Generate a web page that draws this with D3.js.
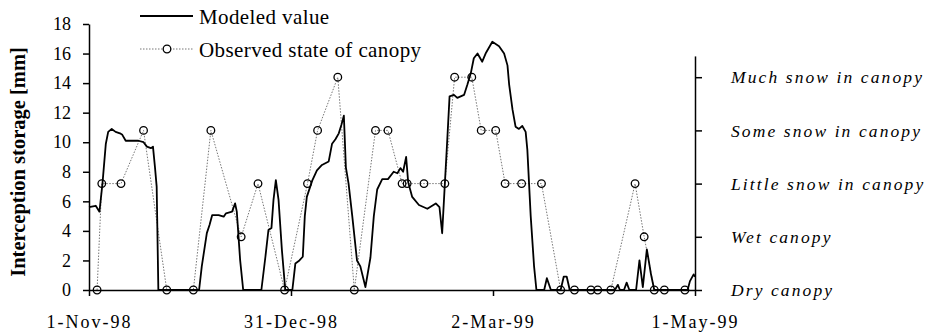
<!DOCTYPE html>
<html>
<head>
<meta charset="utf-8">
<script src="https://cdn.jsdelivr.net/npm/d3@7/dist/d3.min.js"></script>
<style>
  body { margin: 0; background: #fff; }
  svg, svg text { font-family: "Liberation Serif", "Times New Roman", serif; }
  .axis path, .axis line { stroke: #000; stroke-width: 1.5px; }
  .axis text { font-size: 18px; fill: #000; }
  .x-axis text { letter-spacing: 2px; }
  .right-axis text { font-style: italic; font-size: 17.5px; letter-spacing: 2.1px; }
</style>
</head>
<body>
<script>
// days counted from 1-Nov-98
var modeledDay = [0, 2, 3.1, 4, 5, 5.7, 6.75, 7.9, 9.2, 9.9, 10.9, 14.7, 16.2, 17.2,
    18.4, 19, 19.6, 20.1, 20.6, 32.7, 33.5, 35, 35.8, 36.6, 38.5, 40, 40.7, 42.5,
    43.4, 43.9, 44.9, 45.8, 51.2, 52.4, 53.3, 54.2, 54.8, 55.5, 56.3, 57.3, 58.3,
    60.4, 61.3, 62.5, 63.5, 64.1, 64.7, 66.3, 67.7, 69.2, 71.2, 72.2, 73.2, 74.2,
    75, 75.7, 76.3, 77.1, 78.2, 79.6, 80.6, 82.1, 83.6, 84.6, 85.6, 87.1, 88.8,
    90.5, 91.6, 92.5, 93.3, 94.2, 94.8, 96, 98, 100.5, 103, 104.1, 104.9, 105.7,
    106.4, 107.1, 108.4, 109.4, 111.4, 112.4, 113.4, 114.3, 115.4, 116.8, 117.8,
    119.8, 121.8, 123.3, 124.3, 124.8, 125.8, 126.7, 127.7, 128.7, 129.7, 130.2,
    131.2, 132.2, 132.9, 135.2, 136, 137.2, 140.1, 141, 141.9, 142.8, 156.2,
    157.1, 157.7, 158.9, 159.7, 160.5, 162.5, 163.5, 164.5, 165.7, 166.9, 167.9,
    177.8, 178.5, 179.6, 180];
var modeledValue = [5.6, 5.7, 5.3, 7.2, 9.9, 10.7, 10.9, 10.7, 10.6, 10.5, 10.1, 10.1,
    10.0, 9.7, 9.6, 9.7, 8.3, 7.0, 0, 0, 1.6, 3.85, 4.4, 5.07, 5.07, 4.96, 5.19,
    5.3, 5.86, 5.3, 2.0, 0, 0, 2.25, 4.06, 4.2, 6.1, 7.44, 6.1, 2.7, 0, 0, 1.8,
    2.0, 2.25, 5.0, 6.3, 7.4, 8.1, 8.46, 8.7, 9.9, 10.2, 10.6, 11.2, 11.8, 8.3,
    7.2, 5.0, 2.0, 1.6, 0.2, 2.2, 5.0, 6.8, 7.5, 7.5, 8.0, 7.9, 8.25, 8.0, 9.0,
    7.3, 6.3, 5.75, 5.5, 5.86, 5.6, 3.84, 7.2, 10.1, 13.1, 13.2, 13.0, 13.2, 13.9,
    14.66, 15.68, 16.0, 15.45, 16.0, 16.8, 16.5, 16.0, 15.2, 13.9, 12.2, 11.05,
    10.9, 11.1, 10.7, 9.5, 5.0, 1.6, 0, 0, 0.8, 0, 0, 0.9, 0.9, 0, 0, 0.35, 0, 0,
    0.5, 0, 0, 2.0, 0.2, 2.75, 1.1, 0, 0, 0.6, 1.06, 0.9];

var observedDay = [2.4, 3.8, 9.5, 16.2, 23.1, 31, 36.2, 45.2, 50.2, 58.1, 64.9, 67.9,
    73.9, 78.8, 85.1, 88.8, 93, 94.5, 99.5, 105.7, 108.6, 113.7, 116.5, 120.8,
    123.6, 128.5, 134.4, 140.1, 144.2, 149.1, 151.1, 155, 162.2, 164.9, 167.9,
    170.9, 177];
// 0 dry, 1 wet, 2 little snow, 3 some snow, 4 much snow
var observedState = [0, 2, 2, 3, 0, 0, 3, 1, 2, 0, 2, 3, 4, 0, 3, 3, 2, 2, 2, 2, 4, 4,
    3, 3, 2, 2, 2, 0, 0, 0, 0, 0, 2, 1, 0, 0, 0];

var stateLabels = ["Dry canopy", "Wet canopy", "Little snow in canopy",
    "Some snow in canopy", "Much snow in canopy"];
var storageTicks = [0, 2, 4, 6, 8, 10, 12, 14, 16, 18];
var dateTicks = [0, 60, 120, 180];
var dateLabels = ["1-Nov-98", "31-Dec-98", "2-Mar-99", "1-May-99"];

var stateStep = 3.6; // mm on the left axis per canopy state

var svg = d3.select("body").append("svg")
    .attr("width", 926)
    .attr("height", 336);

var x = d3.scaleLinear().domain([0, 180]).range([89, 695]);
var y = d3.scaleLinear().domain([0, 18]).range([290, 24]);
var yState = d3.scaleLinear().domain([0, 4.4])
    .range([y(0), y(4.4 * stateStep)]);

// observed state (dotted line + circles)
var obs = observedDay.map(function(d, i) {
    return {day: d, state: observedState[i]};
});

svg.append("path")
    .datum(obs)
    .attr("fill", "none")
    .attr("stroke", "#777")
    .attr("stroke-width", 1)
    .attr("stroke-dasharray", "1.5,1.5")
    .attr("d", d3.line()
        .x(function(d) { return x(d.day); })
        .y(function(d) { return yState(d.state); }));

// modeled line
var mod = modeledDay.map(function(d, i) {
    return {day: d, value: modeledValue[i]};
});

svg.append("path")
    .datum(mod)
    .attr("fill", "none")
    .attr("stroke", "#000")
    .attr("stroke-width", 1.8)
    .attr("stroke-linejoin", "round")
    .attr("d", d3.line()
        .x(function(d) { return x(d.day); })
        .y(function(d) { return y(d.value); }));

svg.append("g")
    .selectAll("circle")
    .data(obs)
    .enter()
    .append("circle")
    .attr("cx", function(d) { return x(d.day); })
    .attr("cy", function(d) { return yState(d.state); })
    .attr("r", 3.8)
    .attr("fill", "none")
    .attr("stroke", "#000")
    .attr("stroke-width", 1.3);

// axes
svg.append("g")
    .attr("class", "axis")
    .attr("transform", "translate(" + x(0) + ",0)")
    .call(d3.axisLeft(y).tickValues(storageTicks).tickSize(6)
        .tickSizeOuter(0).tickPadding(12));

var xAxis = svg.append("g")
    .attr("class", "axis x-axis")
    .attr("transform", "translate(0," + y(0) + ")")
    .call(d3.axisBottom(x).tickValues(dateTicks).tickSize(6).tickSizeOuter(0)
        .tickFormat(function(d, i) { return dateLabels[i]; }));
xAxis.selectAll("text").attr("y", 38).attr("dy", 0);

svg.append("g")
    .attr("class", "axis right-axis")
    .attr("transform", "translate(" + x(180) + ",0)")
    .call(d3.axisRight(yState).tickValues([0, 1, 2, 3, 4]).tickSize(7)
        .tickSizeOuter(0).tickPadding(29)
        .tickFormat(function(d) { return stateLabels[d]; }));

// y title
svg.append("text")
    .attr("transform", "rotate(-90)")
    .attr("x", -162)
    .attr("y", 25)
    .attr("text-anchor", "middle")
    .style("font-weight", "bold")
    .style("font-size", "20.5px")
    .text("Interception storage [mm]");

// legend
var legend = svg.append("g")
    .style("font-size", "21px")
    .style("letter-spacing", "0.4px");
legend.append("line")
    .attr("x1", 140).attr("x2", 193)
    .attr("y1", 16).attr("y2", 16)
    .attr("stroke", "#000").attr("stroke-width", 1.8);
legend.append("text")
    .attr("x", 199).attr("y", 23.5)
    .text("Modeled value");
legend.append("line")
    .attr("x1", 140).attr("x2", 193)
    .attr("y1", 49).attr("y2", 49)
    .attr("stroke", "#777").attr("stroke-width", 1)
    .attr("stroke-dasharray", "1.5,1.5");
legend.append("circle")
    .attr("cx", 167).attr("cy", 49).attr("r", 3.8)
    .attr("fill", "#fff").attr("stroke", "#000").attr("stroke-width", 1.3);
legend.append("text")
    .attr("x", 199).attr("y", 56.5)
    .text("Observed state of canopy");
</script>
</body>
</html>
